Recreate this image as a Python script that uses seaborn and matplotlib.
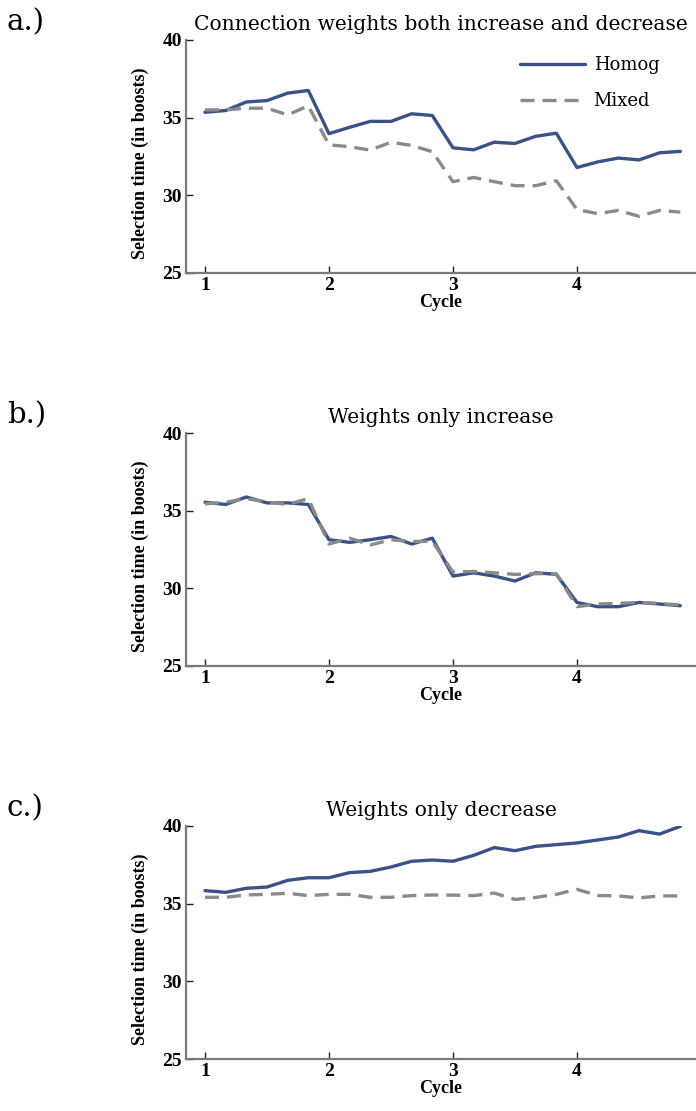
import numpy as np
import pandas as pd
import matplotlib
matplotlib.use("Agg")
import matplotlib.pyplot as plt
import seaborn as sns

# Sample points: six per cycle, cycles 1 to 4
cycle = [1 + k / 6 for k in range(24)]

# a.) connection weights both increase and decrease
homog_both = [35.35, 35.46, 36.01, 36.10, 36.58, 36.75,
              33.97, 34.38, 34.76, 34.76, 35.25, 35.14,
              33.06, 32.93, 33.42, 33.34, 33.80, 34.00,
              31.79, 32.15, 32.40, 32.28, 32.74, 32.83]
mixed_both = [35.50, 35.50, 35.61, 35.61, 35.18, 35.76,
              33.25, 33.13, 32.91, 33.42, 33.21, 32.81,
              30.88, 31.15, 30.88, 30.62, 30.62, 30.94,
              29.09, 28.82, 29.03, 28.65, 29.03, 28.92]

# b.) weights only increase
homog_inc = [35.54, 35.40, 35.88, 35.50, 35.50, 35.40,
             33.13, 32.96, 33.13, 33.34, 32.85, 33.23,
             30.79, 31.00, 30.79, 30.47, 31.00, 30.90,
             29.09, 28.82, 28.82, 29.09, 28.99, 28.88]
mixed_inc = [35.44, 35.54, 35.78, 35.56, 35.40, 35.78,
             32.85, 33.23, 32.79, 33.13, 33.02, 33.02,
             31.05, 31.09, 31.00, 30.90, 30.94, 30.94,
             28.82, 28.99, 29.03, 29.09, 29.03, 28.92]

# c.) weights only decrease
homog_dec = [35.84, 35.73, 35.99, 36.07, 36.50, 36.67,
             36.67, 37.00, 37.08, 37.36, 37.73, 37.81,
             37.73, 38.11, 38.61, 38.41, 38.69, 38.80,
             38.91, 39.10, 39.29, 39.70, 39.48, 39.98]
mixed_dec = [35.41, 35.41, 35.56, 35.60, 35.67, 35.52,
             35.60, 35.60, 35.41, 35.41, 35.52, 35.56,
             35.55, 35.52, 35.68, 35.27, 35.40, 35.60,
             35.92, 35.53, 35.50, 35.37, 35.50, 35.50]

titles = ["Connection weights both increase and decrease",
          "Weights only increase",
          "Weights only decrease"]
panel_tags = ["a.)", "b.)", "c.)"]
series_names = ["Homog", "Mixed"]
y_ticks = [25, 30, 35, 40]
x_ticks = [1, 2, 3, 4]

panels = [(homog_both, mixed_both), (homog_inc, mixed_inc), (homog_dec, mixed_dec)]

sns.set_theme(style="ticks")
plt.rcParams["font.family"] = ["DejaVu Serif"]
plt.rcParams["text.color"] = "black"
plt.rcParams["axes.labelcolor"] = "black"
plt.rcParams["xtick.color"] = "#222222"
plt.rcParams["ytick.color"] = "#222222"
plt.rcParams["xtick.labelcolor"] = "black"
plt.rcParams["ytick.labelcolor"] = "black"

BLUE = "#3a5285"
GREY = "#8a8a8a"
SPINE = "#7a7a7a"

W, H = 696, 1111
fig = plt.figure(figsize=(W / 100, H / 100), dpi=100)

ax_left = 186 / W
ax_width = (W - 186) / W
tops = [40, 433, 826]
ax_h_px = 233

tick_font = dict(family="Liberation Serif", weight="bold", size=14)

for i, ((homog, mixed), title, tag, top) in enumerate(zip(panels, titles, panel_tags, tops)):
    bottom = 1 - (top + ax_h_px) / H
    ax = fig.add_axes([ax_left, bottom, ax_width, ax_h_px / H])

    df = pd.DataFrame({
        "Cycle": cycle * 2,
        "Selection time": homog + mixed,
        "Series": [series_names[0]] * len(cycle) + [series_names[1]] * len(cycle),
    })
    sns.lineplot(data=df, x="Cycle", y="Selection time", hue="Series", style="Series",
                 palette={"Homog": BLUE, "Mixed": GREY},
                 dashes={"Homog": "", "Mixed": (4.2, 2.4)},
                 linewidth=2.4, ax=ax, legend=(i == 0))

    ax.set_xlim(0.847, 4.96)
    ax.set_ylim(25, 40)
    ax.set_xticks(x_ticks)
    ax.set_yticks(y_ticks)
    ax.set_xticklabels([str(t) for t in x_ticks], fontdict=tick_font)
    ax.set_yticklabels([str(t) for t in y_ticks], fontdict=tick_font)
    ax.tick_params(axis="both", direction="in", length=5, width=1, pad=3)

    for side in ["top", "right"]:
        ax.spines[side].set_visible(False)
    for side in ["left", "bottom"]:
        ax.spines[side].set_color(SPINE)
        ax.spines[side].set_linewidth(1.6)

    ax.set_xlabel("Cycle", family="Liberation Serif", weight="bold", size=13, labelpad=0)
    ax.set_ylabel("Selection time (in boosts)", family="Liberation Serif", weight="bold",
                  size=13)
    ax.yaxis.set_label_coords(-0.072, 0.47)
    ax.set_title(title, family="DejaVu Serif", size=14.6, pad=7, color="black")

    fig.text(7 / W, 1 - (top - 18) / H, tag, family="DejaVu Serif", size=21,
             ha="left", va="center")

    if i == 0:
        leg = ax.legend(loc="upper right", frameon=False, handlelength=3.6,
                        labelspacing=1.0, handletextpad=0.5,
                        prop=dict(family="DejaVu Serif", size=13),
                        bbox_to_anchor=(0.96, 1.0))

fig.savefig("out.png", dpi=100)
